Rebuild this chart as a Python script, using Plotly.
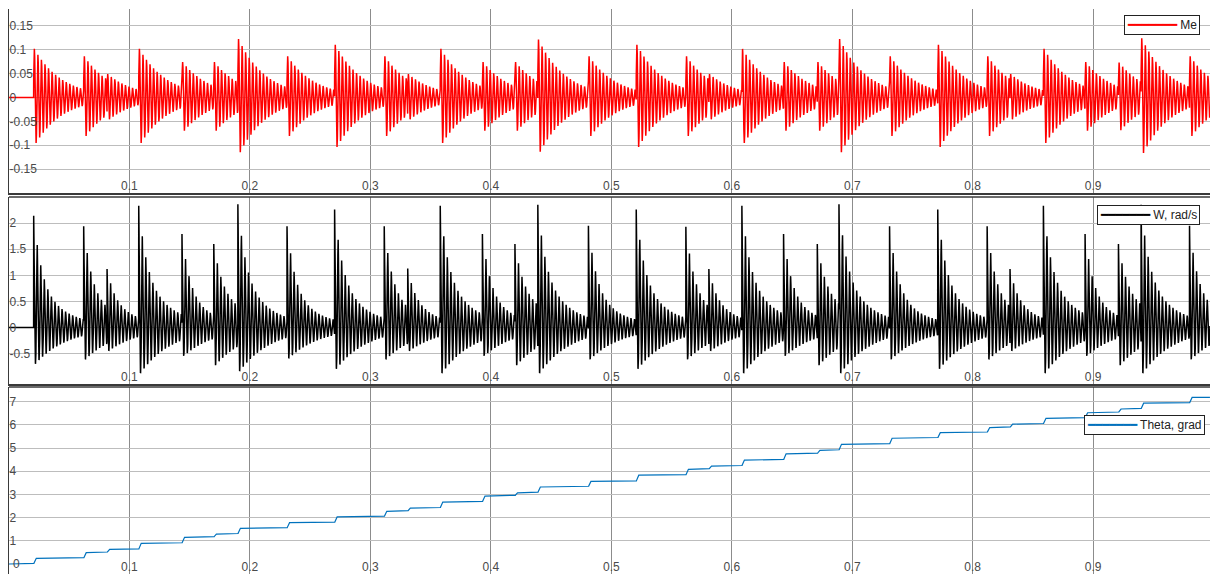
import numpy as np
import plotly.graph_objects as go

# ---- data ----
# impact instants (s)
event_t = [0.0205, 0.0620, 0.0814, 0.1077, 0.1436, 0.1700, 0.1900, 0.2308,
           0.2703, 0.3115, 0.3310, 0.3580, 0.3930, 0.4200, 0.4390, 0.4810,
           0.5207, 0.5619, 0.5810, 0.6084, 0.6430, 0.6710, 0.6890, 0.7310,
           0.7710, 0.8120, 0.8310, 0.8587, 0.8933, 0.9210, 0.9398, 0.9800]
# Me: first peak of each burst
me_peak = [0.104, 0.088, 0.050, 0.104, 0.076, 0.076, 0.125, 0.088,
           0.113, 0.088, 0.050, 0.104, 0.076, 0.076, 0.124, 0.088,
           0.113, 0.088, 0.050, 0.104, 0.076, 0.076, 0.125, 0.088,
           0.113, 0.088, 0.050, 0.104, 0.076, 0.075, 0.127, 0.088]
# W: first (tallest) peak of each burst, rad/s
w_peak = [2.14, 1.94, 1.12, 2.33, 1.79, 1.60, 2.36, 1.94,
          2.26, 1.94, 1.13, 2.33, 1.79, 1.60, 2.35, 1.95,
          2.26, 1.93, 1.12, 2.33, 1.79, 1.60, 2.36, 1.94,
          2.26, 1.94, 1.12, 2.33, 1.79, 1.60, 2.35, 1.95]
# W: depth of the first troughs of each burst
w_trough = [0.73, 0.64, 0.47, 0.92, 0.57, 0.76, 0.88, 0.62,
            0.83, 0.64, 0.47, 0.92, 0.57, 0.76, 0.92, 0.64,
            0.83, 0.64, 0.47, 0.92, 0.57, 0.76, 0.92, 0.64,
            0.83, 0.64, 0.47, 0.92, 0.57, 0.76, 0.92, 0.64]
# Theta level after each impact, grad
theta_level = [0.245, 0.49, 0.63, 0.89, 1.15, 1.29, 1.54, 1.78,
               2.03, 2.27, 2.41, 2.67, 2.93, 3.07, 3.32, 3.56,
               3.83, 4.08, 4.22, 4.48, 4.75, 4.90, 5.16, 5.42,
               5.66, 5.88, 6.03, 6.28, 6.52, 6.68, 6.93, 7.18]
osc_freq_hz = 340.0      # ringing frequency counted on the bursts
me_decay_s = 0.023
w_decay_s = 0.027
w_spike_decay_s = 0.007
theta_rise_s = 0.0015
t_end = 0.997

series_names = ["Me", "W, rad/s", "Theta, grad"]
series_colors = ["#ff0000", "#000000", "#0072BD"]

x_ticks = [0.1, 0.2, 0.3, 0.4, 0.5, 0.6, 0.7, 0.8, 0.9]
x_ticktext = ["0.1", "0.2", "0.3", "0.4", "0.5", "0.6", "0.7", "0.8", "0.9"]
me_ticks = [0.15, 0.1, 0.05, 0, -0.05, -0.1, -0.15]
me_ticktext = ["0.15", "0.1", "0.05", "0", "-0.05", "-0.1", "-0.15"]
w_ticks = [2, 1.5, 1, 0.5, 0, -0.5, -1]
w_ticktext = ["2", "1.5", "1", "0.5", "0", "-0.5", ""]
th_ticks = [0, 1, 2, 3, 4, 5, 6, 7]
th_ticktext = ["0", "1", "2", "3", "4", "5", "6", "7"]

# ---- build the traces from the read events ----
t = np.arange(0.0, t_end, 0.00005)
me = np.zeros_like(t)
w = np.zeros_like(t)
theta = np.zeros_like(t)
prev = 0.0
for i, t0 in enumerate(event_t):
    t1 = event_t[i + 1] if i + 1 < len(event_t) else t_end + 1
    m = (t >= t0) & (t < t1)
    tau = t[m] - t0
    ph = 2 * np.pi * osc_freq_hz * tau
    me[m] = me_peak[i] * np.exp(-tau / me_decay_s) * np.sin(ph + 0.4)
    a = w_trough[i]
    s = w_peak[i] - a
    c = np.cos(ph)
    w[m] = a * np.exp(-tau / w_decay_s) * c + s * np.exp(-tau / w_spike_decay_s) * np.clip(c, 0, None) ** 2
    theta[m] = prev + (theta_level[i] - prev) * np.clip(tau / theta_rise_s, 0, 1)
    prev = theta_level[i]

fig = go.Figure()
fig.add_trace(go.Scatter(x=t, y=me, mode="lines", name=series_names[0],
                         line=dict(color=series_colors[0], width=1.5),
                         xaxis="x", yaxis="y"))
fig.add_trace(go.Scatter(x=t, y=w, mode="lines", name=series_names[1],
                         line=dict(color=series_colors[1], width=1.5),
                         xaxis="x2", yaxis="y2"))
fig.add_trace(go.Scatter(x=t, y=theta, mode="lines", name=series_names[2],
                         line=dict(color=series_colors[2], width=1.2),
                         xaxis="x3", yaxis="y3"))

FONT = "Liberation Sans, Arial, sans-serif"
tick_font = dict(family=FONT, size=12, color="#4a4a4a")

def xax(anchor):
    return dict(range=[0, t_end], anchor=anchor, tickvals=x_ticks, ticktext=x_ticktext,
                ticklabelposition="inside", ticks="", showgrid=True, gridcolor="#8c8c8c",
                gridwidth=1, zeroline=False, showline=True, linecolor="#3a3a3a", linewidth=2,
                tickfont=tick_font, fixedrange=True)

def yax(anchor, rng, dom, tv, tt):
    return dict(range=rng, domain=dom, anchor=anchor, tickvals=tv, ticktext=tt,
                ticklabelposition="inside", ticks="", showgrid=True, gridcolor="#bdbdbd",
                gridwidth=1, zeroline=False, showline=True, linecolor="#3a3a3a", linewidth=1,
                tickfont=tick_font, fixedrange=True)

fig.update_layout(
    width=1210, height=574,
    margin=dict(l=9, r=0, t=9, b=0),
    paper_bgcolor="white", plot_bgcolor="white",
    xaxis=xax("y"),
    xaxis2=xax("y2"),
    xaxis3=xax("y3"),
    yaxis=yax("x", [-0.2, 0.185], [0.6743, 1.0], me_ticks, me_ticktext),
    yaxis2=yax("x2", [-1.08, 2.5], [0.3363, 0.6673], w_ticks, w_ticktext),
    yaxis3=yax("x3", [-0.43, 7.63], [0.0, 0.3310], th_ticks, th_ticktext),
    showlegend=False,
)
# top frame lines of the lower two panels
for yd in ["y2 domain", "y3 domain"]:
    fig.add_shape(type="line", xref="paper", yref=yd, x0=0, x1=1, y0=1, y1=1,
                  line=dict(color="#3a3a3a", width=1.5))

# the "0" tick label of the Theta panel (plotly hides it next to the inside x labels)
fig.add_annotation(xref="paper", yref="y3", x=0, y=0, text="0", showarrow=False,
                   xanchor="left", yanchor="middle", xshift=2, font=tick_font)

# scope-style legend boxes (one per panel)
legend_pos = [(0.99167, 0.98938), (0.99167, 0.65310), (0.99584, 0.28142)]
for name, col, (lx, ly) in zip(series_names, series_colors, legend_pos):
    fig.add_annotation(
        xref="paper", yref="paper", x=lx, y=ly, xanchor="right", yanchor="top",
        showarrow=False, align="left",
        text=f'<span style="color:{col}">━━━━━━━</span> {name}',
        font=dict(family=FONT, size=12, color="#222222"),
        bgcolor="white", bordercolor="#222222", borderwidth=1, borderpad=2,
    )

fig.write_html("out.html", config={"displayModeBar": False},
               post_script="document.body.style.margin='0px';document.body.style.overflow='hidden';")
